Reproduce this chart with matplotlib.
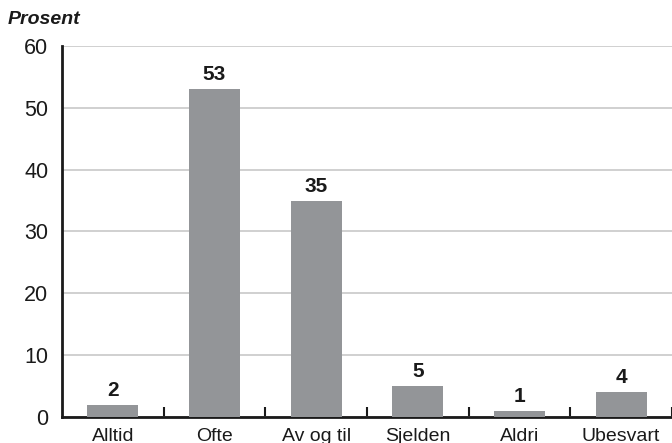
import matplotlib
matplotlib.use("Agg")
import matplotlib.pyplot as plt

kategorier = ["Alltid", "Ofte", "Av og til", "Sjelden", "Aldri", "Ubesvart"]
prosent = [2, 53, 35, 5, 1, 4]
y_ticks = [0, 10, 20, 30, 40, 50, 60]

plt.rcParams["font.family"] = ["Liberation Sans", "DejaVu Sans"]

fig = plt.figure(figsize=(6.72, 4.43), dpi=100)
ax = fig.add_axes([0.0923, 0.0587, 0.9077, 0.8375])

x = list(range(len(kategorier)))
ax.bar(x, prosent, width=0.5, color="#939598", zorder=3)

for xi, v in zip(x, prosent):
    ax.text(xi, v + 0.8, str(v), ha="center", va="bottom",
            fontsize=15, fontweight="bold", color="#1a1a1a", zorder=4)

ax.set_xlim(-0.5, len(kategorier) - 0.5)
ax.set_ylim(0, 60)
ax.set_yticks(y_ticks)
ax.tick_params(axis="y", length=0, pad=10, labelsize=15.5, colors="#1a1a1a")
ax.yaxis.grid(True, color="#c8c8c8", linewidth=1.2, zorder=0)

# kategori-navn under søylene, tikk mellom kategoriene
ax.set_xticks(x)
ax.set_xticklabels(kategorier)
ax.tick_params(axis="x", which="major", length=0, pad=8, labelsize=14, colors="#1a1a1a")
ax.set_xticks([i + 0.5 for i in x], minor=True)
ax.tick_params(axis="x", which="minor", direction="in", length=7, width=1.5, color="#1a1a1a")

for side in ("top", "right"):
    ax.spines[side].set_visible(False)
ax.spines["left"].set_linewidth(2)
ax.spines["bottom"].set_linewidth(2)
ax.spines["left"].set_color("#1a1a1a")
ax.spines["bottom"].set_color("#1a1a1a")

fig.text(0.012, 0.957, "Prosent", fontsize=14, fontweight="bold", style="italic",
         ha="left", va="center", color="#1a1a1a")

fig.savefig("out.png", dpi=100)
